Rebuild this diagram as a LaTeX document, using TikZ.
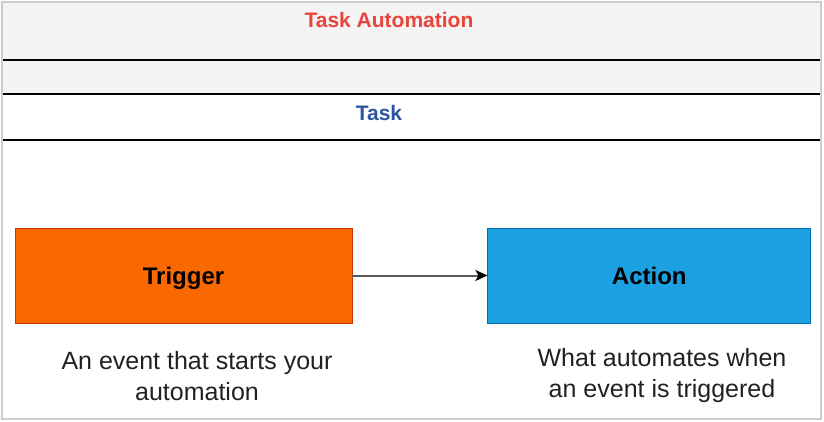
\documentclass[tikz,border=0pt]{standalone}
\usepackage{fontspec}
\setmainfont{Liberation Sans}
\usepackage{xcolor}
\usetikzlibrary{positioning,arrows.meta}

\definecolor{trigfill}{HTML}{FA6800}
\definecolor{trigline}{HTML}{C73500}
\definecolor{actfill}{HTML}{1BA1E2}
\definecolor{actline}{HTML}{006EAF}
\definecolor{titlered}{HTML}{E8453C}
\definecolor{taskblue}{HTML}{2B54A3}
\definecolor{bandgray}{HTML}{F4F4F4}
\definecolor{framegray}{HTML}{CCCCCC}

\begin{document}
\begin{tikzpicture}[x=1pt, y=-1pt, node distance=135pt,
  box/.style={draw, line width=0.8pt, minimum height=95pt, text height=17.5pt, text depth=0pt, font=\fontsize{24}{28}\selectfont\bfseries},
  desc/.style={align=center, text=black!87, font=\fontsize{25}{31}\selectfont},
  head/.style={font=\fontsize{21}{24}\selectfont\bfseries}]
\useasboundingbox (0,0) rectangle (824,422);
% frame and bands
\fill[bandgray] (2,2) rectangle (821,94);
\draw[framegray, line width=1.2pt] (2,2) rectangle (821,419);
\draw[line width=2.2pt] (3,60) -- (820,60);
\draw[line width=1.2pt] (3,94) -- (820,94);
\draw[line width=2.2pt] (3,140) -- (820,140);
\node[head, text=titlered] (title) at (389,20) {Task Automation};
\node[head, text=taskblue] (task) at (379,113) {Task};
% trigger -> action
\node[box, fill=trigfill, draw=trigline, minimum width=337pt] (trigger) at (183.5,275.5) {Trigger};
\node[box, fill=actfill, draw=actline, minimum width=323pt, right=of trigger] (action) {Action};
\node[desc] (trigdesc) at (197,376) {An event that starts your\\automation};
\node[desc] (actdesc) at (662,376) {What automates when\\an event is triggered};
\draw[-{Stealth[length=12pt, width=11pt, inset=3pt, color=black]}, draw=black!65, line width=2pt] (trigger) -- (action);
\end{tikzpicture}
\end{document}
